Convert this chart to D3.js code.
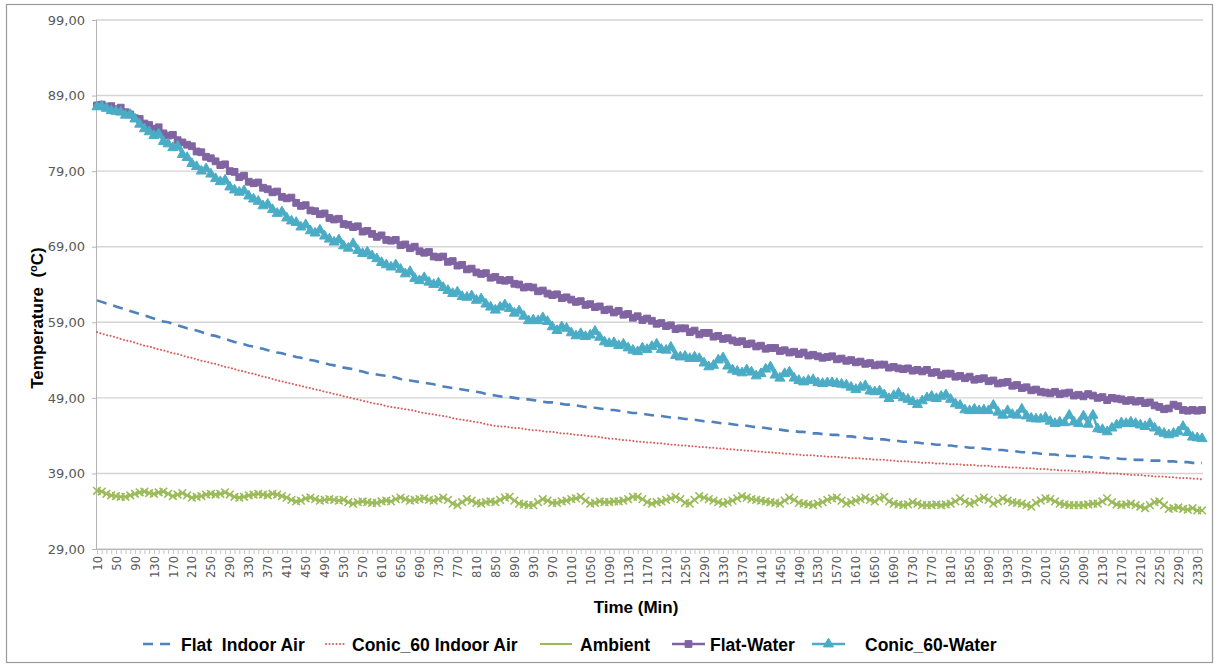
<!DOCTYPE html>
<html>
<head>
<meta charset="utf-8">
<script src="https://cdn.jsdelivr.net/npm/d3@7"></script>
<style>
  body { margin: 0; background: #fff; }
  #chart svg { display: block; }
  #chart text { white-space: pre; }
</style>
</head>
<body>
<div id="chart"></div>
<script>
// time axis (min), one reading every 10 minutes
const minutes = [
  10, 20, 30, 40, 50, 60, 70, 80, 90, 100, 110, 120, 130, 140, 150, 160, 170, 180, 190, 200,
  210, 220, 230, 240, 250, 260, 270, 280, 290, 300, 310, 320, 330, 340, 350, 360, 370, 380, 390, 400,
  410, 420, 430, 440, 450, 460, 470, 480, 490, 500, 510, 520, 530, 540, 550, 560, 570, 580, 590, 600,
  610, 620, 630, 640, 650, 660, 670, 680, 690, 700, 710, 720, 730, 740, 750, 760, 770, 780, 790, 800,
  810, 820, 830, 840, 850, 860, 870, 880, 890, 900, 910, 920, 930, 940, 950, 960, 970, 980, 990, 1000,
  1010, 1020, 1030, 1040, 1050, 1060, 1070, 1080, 1090, 1100, 1110, 1120, 1130, 1140, 1150, 1160, 1170, 1180, 1190, 1200,
  1210, 1220, 1230, 1240, 1250, 1260, 1270, 1280, 1290, 1300, 1310, 1320, 1330, 1340, 1350, 1360, 1370, 1380, 1390, 1400,
  1410, 1420, 1430, 1440, 1450, 1460, 1470, 1480, 1490, 1500, 1510, 1520, 1530, 1540, 1550, 1560, 1570, 1580, 1590, 1600,
  1610, 1620, 1630, 1640, 1650, 1660, 1670, 1680, 1690, 1700, 1710, 1720, 1730, 1740, 1750, 1760, 1770, 1780, 1790, 1800,
  1810, 1820, 1830, 1840, 1850, 1860, 1870, 1880, 1890, 1900, 1910, 1920, 1930, 1940, 1950, 1960, 1970, 1980, 1990, 2000,
  2010, 2020, 2030, 2040, 2050, 2060, 2070, 2080, 2090, 2100, 2110, 2120, 2130, 2140, 2150, 2160, 2170, 2180, 2190, 2200,
  2210, 2220, 2230, 2240, 2250, 2260, 2270, 2280, 2290, 2300, 2310, 2320, 2330, 2340
]

const flatIndoorAir = [
  61.9, 61.7, 61.5, 61.3, 61.1, 60.9, 60.7, 60.5, 60.3, 60.1,
  59.9, 59.7, 59.5, 59.3, 59.1, 59.0, 58.8, 58.6, 58.4, 58.2,
  58.1, 57.9, 57.7, 57.5, 57.3, 57.2, 57.0, 56.8, 56.6, 56.4,
  56.2, 56.1, 55.9, 55.8, 55.6, 55.5, 55.3, 55.2, 55.0, 54.9,
  54.7, 54.6, 54.4, 54.3, 54.1, 54.0, 53.9, 53.7, 53.6, 53.4,
  53.3, 53.2, 53.0, 52.9, 52.8, 52.6, 52.5, 52.3, 52.2, 52.1,
  52.0, 51.9, 51.8, 51.7, 51.5, 51.4, 51.3, 51.2, 51.1, 51.0,
  50.9, 50.8, 50.6, 50.5, 50.4, 50.3, 50.2, 50.1, 50.0, 49.9,
  49.8, 49.7, 49.5, 49.4, 49.3, 49.2, 49.1, 49.1, 49.0, 48.9,
  48.8, 48.8, 48.7, 48.6, 48.5, 48.4, 48.4, 48.3, 48.2, 48.1,
  48.1, 48.0, 47.9, 47.8, 47.7, 47.7, 47.6, 47.5, 47.4, 47.4,
  47.3, 47.2, 47.1, 47.0, 47.0, 46.9, 46.8, 46.7, 46.7, 46.6,
  46.5, 46.4, 46.4, 46.3, 46.2, 46.2, 46.1, 46.0, 45.9, 45.9,
  45.8, 45.7, 45.6, 45.6, 45.5, 45.4, 45.4, 45.3, 45.2, 45.1,
  45.1, 45.0, 44.9, 44.8, 44.8, 44.7, 44.6, 44.6, 44.5, 44.5,
  44.4, 44.3, 44.3, 44.2, 44.2, 44.1, 44.1, 44.0, 43.9, 43.9,
  43.8, 43.8, 43.7, 43.6, 43.6, 43.5, 43.5, 43.4, 43.3, 43.3,
  43.2, 43.2, 43.1, 43.1, 43.0, 42.9, 42.9, 42.8, 42.8, 42.7,
  42.7, 42.6, 42.6, 42.5, 42.4, 42.4, 42.3, 42.3, 42.2, 42.2,
  42.1, 42.1, 42.0, 42.0, 41.9, 41.8, 41.8, 41.7, 41.7, 41.6,
  41.6, 41.5, 41.5, 41.4, 41.4, 41.3, 41.3, 41.3, 41.2, 41.2,
  41.1, 41.1, 41.1, 41.0, 41.0, 41.0, 40.9, 40.9, 40.9, 40.8,
  40.8, 40.8, 40.7, 40.7, 40.7, 40.6, 40.6, 40.6, 40.5, 40.5,
  40.5, 40.4, 40.4, 40.4
]

const conicIndoorAir = [
  57.7, 57.5, 57.3, 57.2, 57.0, 56.8, 56.6, 56.5, 56.3, 56.1,
  55.9, 55.8, 55.6, 55.4, 55.3, 55.1, 54.9, 54.8, 54.6, 54.4,
  54.3, 54.1, 53.9, 53.8, 53.6, 53.5, 53.3, 53.1, 53.0, 52.8,
  52.6, 52.5, 52.3, 52.2, 52.0, 51.8, 51.7, 51.5, 51.3, 51.2,
  51.0, 50.9, 50.7, 50.6, 50.4, 50.3, 50.1, 50.0, 49.8, 49.7,
  49.5, 49.4, 49.2, 49.1, 48.9, 48.8, 48.6, 48.5, 48.3, 48.2,
  48.1, 47.9, 47.8, 47.7, 47.6, 47.5, 47.4, 47.3, 47.1, 47.0,
  46.9, 46.8, 46.7, 46.6, 46.5, 46.3, 46.2, 46.1, 46.0, 45.9,
  45.8, 45.7, 45.5, 45.4, 45.3, 45.2, 45.2, 45.1, 45.0, 45.0,
  44.9, 44.8, 44.7, 44.7, 44.6, 44.5, 44.5, 44.4, 44.3, 44.3,
  44.2, 44.1, 44.1, 44.0, 43.9, 43.9, 43.8, 43.7, 43.6, 43.6,
  43.5, 43.4, 43.4, 43.3, 43.2, 43.2, 43.1, 43.1, 43.0, 43.0,
  42.9, 42.8, 42.8, 42.7, 42.7, 42.6, 42.6, 42.5, 42.5, 42.4,
  42.4, 42.3, 42.3, 42.2, 42.2, 42.1, 42.1, 42.0, 42.0, 41.9,
  41.9, 41.8, 41.8, 41.7, 41.7, 41.6, 41.6, 41.5, 41.5, 41.4,
  41.4, 41.4, 41.3, 41.3, 41.2, 41.2, 41.2, 41.1, 41.1, 41.0,
  41.0, 41.0, 40.9, 40.9, 40.8, 40.8, 40.8, 40.7, 40.7, 40.6,
  40.6, 40.6, 40.5, 40.5, 40.4, 40.4, 40.4, 40.3, 40.3, 40.3,
  40.2, 40.2, 40.2, 40.1, 40.1, 40.1, 40.0, 40.0, 40.0, 39.9,
  39.9, 39.9, 39.8, 39.8, 39.8, 39.7, 39.7, 39.7, 39.6, 39.6,
  39.6, 39.5, 39.5, 39.4, 39.4, 39.4, 39.3, 39.3, 39.2, 39.2,
  39.2, 39.1, 39.1, 39.0, 39.0, 39.0, 38.9, 38.9, 38.8, 38.8,
  38.8, 38.7, 38.7, 38.6, 38.6, 38.6, 38.5, 38.5, 38.4, 38.4,
  38.4, 38.3, 38.3, 38.2
]

const ambient = [
  36.7, 36.6, 36.3, 36.1, 36.0, 35.9, 35.9, 36.1, 36.3, 36.5,
  36.6, 36.4, 36.3, 36.5, 36.6, 36.3, 36.0, 36.2, 36.4, 36.1,
  35.8, 35.9, 36.0, 36.2, 36.3, 36.2, 36.3, 36.5, 36.2, 35.9,
  35.8, 35.9, 36.1, 36.2, 36.3, 36.2, 36.1, 36.3, 36.2, 36.0,
  35.8, 35.5, 35.3, 35.4, 35.7, 35.8, 35.6, 35.4, 35.5, 35.6,
  35.5, 35.4, 35.5, 35.2, 35.0, 35.2, 35.3, 35.2, 35.1, 35.1,
  35.3, 35.4, 35.3, 35.6, 35.8, 35.6, 35.4, 35.5, 35.6, 35.7,
  35.5, 35.4, 35.6, 35.8, 35.5, 35.0, 34.8, 35.2, 35.6, 35.4,
  35.1, 35.0, 35.2, 35.3, 35.2, 35.5, 35.8, 35.9, 35.4, 35.0,
  34.9, 34.8, 34.8, 35.2, 35.6, 35.4, 35.1, 35.1, 35.3, 35.4,
  35.6, 35.7, 35.9, 35.4, 35.0, 35.1, 35.3, 35.2, 35.2, 35.3,
  35.3, 35.4, 35.6, 35.9, 35.9, 35.6, 35.2, 35.0, 35.2, 35.3,
  35.5, 35.7, 35.9, 35.6, 35.1, 35.0, 35.5, 36.0, 35.8, 35.6,
  35.4, 35.2, 35.0, 35.2, 35.4, 35.7, 36.0, 35.8, 35.6, 35.5,
  35.4, 35.3, 35.2, 35.1, 35.0, 35.4, 35.8, 35.5, 35.1, 35.0,
  34.9, 34.8, 35.0, 35.2, 35.5, 35.7, 35.8, 35.4, 35.0, 35.2,
  35.4, 35.6, 35.8, 35.5, 35.3, 35.7, 35.9, 35.3, 35.0, 34.9,
  34.8, 34.9, 35.2, 35.0, 34.8, 34.8, 34.8, 34.9, 34.8, 34.9,
  35.0, 35.3, 35.7, 35.3, 35.0, 35.2, 35.6, 35.8, 35.5, 35.0,
  35.3, 35.7, 35.4, 35.2, 35.1, 35.0, 34.8, 34.6, 35.1, 35.4,
  35.7, 35.6, 35.3, 35.0, 34.9, 34.8, 34.8, 34.8, 34.8, 34.9,
  35.0, 35.0, 35.3, 35.7, 35.2, 34.9, 34.8, 34.9, 35.0, 34.8,
  34.6, 34.4, 34.8, 35.2, 35.3, 34.8, 34.3, 34.4, 34.5, 34.3,
  34.2, 34.4, 34.1, 34.1
]

const flatWater = [
  87.7, 87.8, 87.5, 87.6, 87.2, 87.4, 86.8, 86.5, 86.0, 85.9,
  85.3, 85.1, 84.6, 84.8, 84.0, 83.7, 83.8, 83.1, 82.8, 82.5,
  82.3, 81.6, 81.5, 80.9, 80.7, 80.3, 79.8, 79.9, 79.0, 78.9,
  78.2, 78.4, 77.6, 77.4, 77.5, 76.8, 76.6, 76.2, 76.3, 75.6,
  75.4, 75.5, 74.8, 74.4, 74.5, 73.8, 73.7, 73.3, 73.4, 72.8,
  72.6, 72.7, 72.0, 71.9, 71.6, 71.7, 71.0, 71.1, 70.7, 70.3,
  70.5, 69.9, 69.8, 69.9, 69.2, 69.3, 68.8, 69.0, 68.4, 68.2,
  68.3, 67.7, 67.6, 67.7, 67.0, 67.1, 66.5, 66.6, 66.0, 66.1,
  65.6, 65.4, 65.5, 64.9, 65.0, 64.6, 64.5, 64.6, 64.1, 64.0,
  63.6, 63.7, 63.6, 63.1, 63.2, 62.8, 62.6, 62.7, 62.2, 62.3,
  62.0, 61.7, 61.8, 61.3, 61.4, 61.0, 61.1, 60.6, 60.7, 60.3,
  60.5, 60.0, 60.1, 59.6, 59.8, 59.3, 59.5, 59.2, 58.8, 58.9,
  58.5, 58.6, 58.1, 58.2, 58.2, 57.7, 57.9, 57.4, 57.6, 57.6,
  57.1, 57.2, 56.8, 56.9, 56.6, 56.4, 56.5, 56.1, 56.2, 55.8,
  55.9, 55.5, 55.6, 55.6, 55.2, 55.3, 55.0, 55.1, 54.8, 55.0,
  54.6, 54.7, 54.5, 54.3, 54.4, 54.5, 54.1, 54.2, 53.9, 54.0,
  53.7, 53.8, 53.5, 53.6, 53.3, 53.4, 53.4, 53.0, 53.1, 52.9,
  52.8, 52.9, 52.6, 52.7, 52.5, 52.7, 52.3, 52.4, 52.0, 52.2,
  52.2, 51.8, 51.9, 51.6, 51.8, 51.4, 51.5, 51.6, 51.2, 51.3,
  50.9, 51.0, 51.1, 50.6, 50.7, 50.3, 50.4, 50.0, 50.1, 49.8,
  49.7, 49.6, 49.8, 49.5, 49.6, 49.7, 49.3, 49.4, 49.2, 49.5,
  49.3, 49.0, 49.1, 48.7, 49.0, 48.9, 48.8, 48.6, 48.7, 48.5,
  48.6, 48.3, 48.4, 48.0, 47.8, 47.5, 47.6, 48.1, 47.9, 47.4,
  47.3, 47.4, 47.3, 47.4
]

const conicWater = [
  87.5, 87.6, 87.3, 87.0, 86.9, 86.8, 86.4, 86.5, 85.9, 85.2,
  84.6, 84.2, 83.7, 83.9, 82.9, 82.6, 82.1, 82.3, 81.2, 80.8,
  80.0, 79.6, 79.0, 79.3, 78.6, 78.0, 77.6, 77.8, 76.9, 76.5,
  76.2, 76.4, 75.7, 75.3, 75.0, 74.4, 74.6, 73.9, 73.4, 73.6,
  72.8, 72.4, 72.2, 71.6, 71.9, 71.1, 70.8, 71.2, 70.4, 70.0,
  69.6, 69.9, 69.1, 68.8, 69.4, 68.5, 68.1, 68.3, 67.8, 67.4,
  66.9, 66.6, 66.3, 66.6, 66.0, 65.4, 65.7, 64.8, 64.5, 64.9,
  64.3, 64.0, 64.2, 63.6, 63.2, 62.8, 63.0, 62.4, 62.3, 62.5,
  61.9, 62.1, 61.4, 61.0, 60.6, 61.0, 61.3, 60.8, 60.2, 60.5,
  59.8, 59.2, 59.3, 59.2, 59.6, 59.1, 58.4, 57.9, 58.4, 58.2,
  57.6, 57.2, 57.5, 57.1, 57.3, 57.8, 57.0, 56.4, 56.2, 56.3,
  55.9, 56.1, 55.6, 55.3, 55.1, 55.6, 55.4, 55.8, 56.1, 55.4,
  55.3, 55.7, 54.6, 54.4, 54.5, 54.2, 54.4, 54.2, 53.6, 53.1,
  53.3, 54.0, 54.3, 53.2, 52.7, 52.5, 52.3, 52.7, 52.4, 51.9,
  52.2, 52.8, 53.1, 52.0, 51.6, 52.2, 52.4, 51.6, 51.3, 51.1,
  51.3, 51.4, 51.0, 50.9, 51.0, 51.0, 50.9, 50.8, 50.7, 50.4,
  50.1, 50.4, 50.6, 49.9, 49.8, 49.9, 49.4, 48.9, 49.3, 49.6,
  49.0, 48.8, 48.5, 48.1, 48.6, 49.0, 49.2, 48.9, 49.2, 49.4,
  48.8, 48.2, 48.0, 47.4, 47.3, 47.5, 47.3, 47.4, 47.3, 48.0,
  47.1, 46.7, 47.3, 46.8, 46.7, 47.5, 46.6, 46.3, 46.2, 46.2,
  46.4, 45.9, 45.6, 45.8, 45.7, 46.7, 45.8, 45.6, 46.6, 45.5,
  46.7, 44.9, 44.8, 44.5, 45.0, 45.4, 45.7, 45.6, 45.8, 45.6,
  45.4, 45.2, 45.6, 45.0, 44.5, 44.3, 44.1, 44.3, 44.5, 45.2,
  44.4, 43.8, 43.7, 43.6
]

const yTicks = [29, 39, 49, 59, 69, 79, 89, 99]

class CoolingChart {
  constructor (conf) {
    this.initConf(conf)
    this.initSvg()
  }

  initConf (conf) {
    const defaultConf = {
      id: 'chart',
      width: 1215,
      height: 664,
      left: 96,
      right: 1203,
      top: 20,
      bottom: 549
    }
    Object.keys(defaultConf).forEach(key => {
      this[key] = conf && conf.hasOwnProperty(key) ? conf[key] : defaultConf[key]
    })
    // dotted: round caps on near-zero dashes give dots
    this.series = [
      { name: 'Flat  Indoor Air', values: flatIndoorAir, color: '#4f81bd', width: 2.6, dash: '10,7', cap: 'butt', lx: 143, tx: 181, len: 32 },
      { name: 'Conic_60 Indoor Air', values: conicIndoorAir, color: '#d6605d', width: 2, dash: '0.1,3.4', cap: 'round', lx: 326, tx: 352, len: 20 },
      { name: 'Ambient', values: ambient, color: '#9bbb59', width: 2, marker: 'x', lx: 540, tx: 580, len: 32 },
      { name: 'Flat-Water', values: flatWater, color: '#8064a2', width: 2.6, marker: 'square', lx: 672, tx: 710, len: 33 },
      { name: 'Conic_60-Water', values: conicWater, color: '#4bacc6', width: 2.4, marker: 'triangle', lx: 812, tx: 865, len: 33 }
    ]
  }

  initSvg () {
    this.svg = d3.select(`#${this.id}`)
      .append('svg')
      .attr('width', this.width)
      .attr('height', this.height)
    // chart border
    this.svg.append('rect')
      .attr('x', 6.5).attr('y', 4.5)
      .attr('width', 1206).attr('height', 658)
      .attr('fill', '#fff')
      .attr('stroke', '#9a9a9a')
      .attr('stroke-width', 1.2)
  }

  scaleX () {
    return d3.scalePoint()
      .domain(minutes)
      .range([this.left + 1, this.right - 1])
  }

  scaleY () {
    return d3.scaleLinear()
      .domain([29, 99])
      .range([this.bottom, this.top])
  }

  draw () {
    const x = this.scaleX()
    const y = this.scaleY()
    this.drawGrid(y)
    this.drawAxis(x, y)
    this.series.forEach(s => this.drawSeries(s, x, y))
    this.drawTitles()
    this.drawLegend()
  }

  drawGrid (y) {
    this.svg.append('g')
      .selectAll('line')
      .data(yTicks)
      .join('line')
      .attr('x1', this.left).attr('x2', this.right)
      .attr('y1', d => y(d)).attr('y2', d => y(d))
      .attr('stroke', '#d4d4d4')
      .attr('stroke-width', 1.4)
  }

  drawAxis (x, y) {
    const labelled = new Set(minutes.filter((d, i) => i % 4 === 0))
    const xAxis = d3.axisBottom(x)
      .tickValues(minutes)
      .tickSize(5)
      .tickFormat(d => labelled.has(d) ? d : '')
    const gx = this.svg.append('g')
      .attr('transform', `translate(0, ${this.bottom})`)
      .call(xAxis)
    gx.select('.domain').attr('stroke', '#b4b4b4').attr('d', `M${this.left},0.5H${this.right}`)
    gx.selectAll('.tick line').attr('stroke', '#c4c4c4')
    gx.selectAll('.tick text')
      .attr('transform', 'rotate(-90)')
      .attr('x', -7)
      .attr('y', 0)
      .attr('dy', '0.36em')
      .attr('text-anchor', 'end')
      .attr('fill', '#595959')
      .style('font', '11.5px "DejaVu Sans", sans-serif')

    const yAxis = d3.axisLeft(y)
      .tickValues(yTicks)
      .tickSize(4)
      .tickPadding(7)
      .tickFormat(d => d3.format('.2f')(d).replace('.', ','))
    const gy = this.svg.append('g')
      .attr('transform', `translate(${this.left}, 0)`)
      .call(yAxis)
    gy.select('.domain').attr('stroke', '#b4b4b4').attr('d', `M0.5,${this.top}V${this.bottom}`)
    gy.selectAll('.tick line').attr('stroke', '#b4b4b4')
    gy.selectAll('.tick text')
      .attr('fill', '#595959')
      .style('font', '13px "DejaVu Sans", sans-serif')
  }

  markerPath (type, size) {
    const sym = { x: d3.symbolX, square: d3.symbolSquare, triangle: d3.symbolTriangle }[type]
    return d3.symbol(sym, size)()
  }

  drawMarker (g, type, color) {
    if (type === 'x') {
      g.append('path')
        .attr('d', this.markerPath('x', 40))
        .attr('fill', 'none')
        .attr('stroke', color)
        .attr('stroke-width', 1.6)
    } else {
      g.append('path')
        .attr('d', this.markerPath(type, type === 'square' ? 46 : 44))
        .attr('fill', color)
        .attr('stroke', color)
        .attr('stroke-width', 1)
    }
  }

  drawSeries (s, x, y) {
    const line = d3.line()
      .x((d, i) => x(minutes[i]))
      .y(d => y(d))
    const g = this.svg.append('g')
    g.append('path')
      .attr('d', line(s.values))
      .attr('fill', 'none')
      .attr('stroke', s.color)
      .attr('stroke-width', s.width)
      .attr('stroke-dasharray', s.dash || null)
      .attr('stroke-linecap', s.cap || 'butt')
    if (s.marker) {
      g.selectAll('g')
        .data(s.values)
        .join('g')
        .attr('transform', (d, i) => `translate(${x(minutes[i])}, ${y(d)})`)
        .each((d, i, nodes) => this.drawMarker(d3.select(nodes[i]), s.marker, s.color))
    }
  }

  drawTitles () {
    this.svg.append('text')
      .attr('x', 636).attr('y', 613)
      .attr('text-anchor', 'middle')
      .style('font', 'bold 17px "Liberation Sans", Arial, sans-serif')
      .text('Time (Min)')
    const t = this.svg.append('text')
      .attr('transform', 'translate(43, 318) rotate(-90)')
      .attr('text-anchor', 'middle')
      .style('font', 'bold 17px "Liberation Sans", Arial, sans-serif')
    t.append('tspan').text('Temperature  (')
    t.append('tspan').attr('dy', -6).style('font-size', '11px').text('o')
    t.append('tspan').attr('dy', 6).text('C)')
  }

  drawLegend () {
    const ly = 644
    const g = this.svg.append('g')
    this.series.forEach(s => {
      g.append('line')
        .attr('x1', s.lx).attr('x2', s.lx + s.len)
        .attr('y1', ly).attr('y2', ly)
        .attr('stroke', s.color)
        .attr('stroke-width', s.width)
        .attr('stroke-dasharray', s.dash || null)
        .attr('stroke-linecap', s.cap || 'butt')
      if (s.marker && s.marker !== 'x') {
        const m = g.append('g').attr('transform', `translate(${s.lx + s.len / 2}, ${ly})`)
        this.drawMarker(m, s.marker, s.color)
      }
      g.append('text')
        .attr('x', s.tx).attr('y', ly + 7)
        .style('font', 'bold 17.5px "Liberation Sans", Arial, sans-serif')
        .text(s.name)
    })
  }
}

new CoolingChart({ id: 'chart' }).draw()
</script>
</body>
</html>
